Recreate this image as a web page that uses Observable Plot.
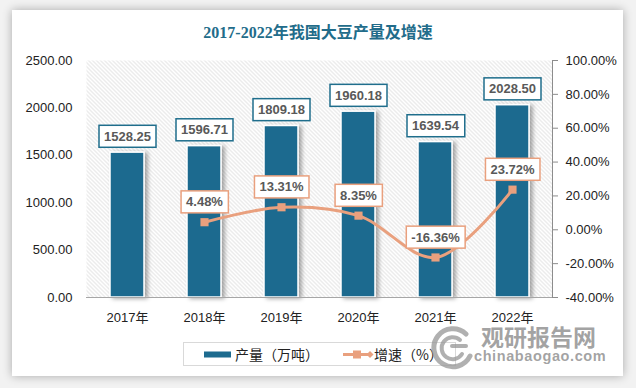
<!DOCTYPE html>
<html>
<head>
<meta charset="utf-8">
<script src="https://cdn.jsdelivr.net/npm/d3@7"></script>
<script src="https://cdn.jsdelivr.net/npm/@observablehq/plot@0.6"></script>
<style>
  html, body { margin: 0; padding: 0; }
  body { width: 636px; height: 388px; background: #f2f2f2; position: relative; overflow: hidden;
         font-family: "Liberation Sans", "Noto Sans CJK SC", sans-serif; }
  #card { position: absolute; left: 12px; top: 10px; width: 611px; height: 366px; background: #fff;
          box-shadow: 0 0 9px rgba(0,0,0,0.30); }
  #title { position: absolute; left: 0; top: 22px; width: 636px; text-align: center; height: 22px; line-height: 22px;
           font-family: "Liberation Serif", "Noto Sans CJK SC", serif; font-weight: bold; font-size: 16px; color: #226c8a; }
  #chart { position: absolute; left: 0; top: 40px; }
  #legend { position: absolute; left: 183px; top: 342px; width: 273px; height: 24px; border: 1px solid #d9d9d9;
            box-sizing: border-box; font-family: "Noto Sans CJK SC", sans-serif; font-size: 14px; color: #222; }
  .lg { position: absolute; top: 0; height: 22px; line-height: 22px; white-space: nowrap; }
  #wm1 { position: absolute; left: 481px; top: 320px; font-family: "Noto Sans CJK SC", sans-serif; font-weight: bold;
         font-size: 23px; color: rgba(128,128,128,0.72); line-height: 32px; letter-spacing: 0px; }
  #wm2 { position: absolute; left: 474px; top: 347px; font-family: "Liberation Sans", sans-serif; font-weight: bold;
         font-size: 14.5px; color: rgba(128,128,128,0.72); line-height: 18px; letter-spacing: 0.6px; }
  #logo { position: absolute; left: 426px; top: 326px; }
</style>
</head>
<body>
<div id="card"></div>
<div id="title">2017-2022年我国大豆产量及增速</div>
<div id="chart"></div>
<div id="legend">
  <div class="lg" style="left:20px;">
    <svg width="27" height="22" style="vertical-align:top"><rect x="0" y="8.5" width="27" height="6" fill="#1d6b8f"/></svg>
  </div>
  <div class="lg" style="left:51px;">产量（万吨）</div>
  <div class="lg" style="left:159px;">
    <svg width="32" height="22" style="vertical-align:top">
      <line x1="0" y1="11.5" x2="29" y2="11.5" stroke="#e9a07e" stroke-width="3"/>
      <rect x="10" y="7.5" width="8" height="8" fill="#e9a07e"/>
      <path d="M27,8 L30.5,11.5 L27,15 L23.5,11.5 Z" fill="#e9a07e"/>
    </svg>
  </div>
  <div class="lg" style="left:190px;">增速（%）</div>
</div>
<svg id="logo" width="50" height="44" viewBox="0 0 50 44">
  <g fill="none" stroke="rgba(150,150,150,0.75)" stroke-linecap="round">
    <path d="M40,8 A19,19 0 1 0 44,30" stroke-width="5"/>
    <path d="M34,14 A11,11 0 1 0 36,28" stroke-width="4"/>
    <path d="M26,20 L40,20" stroke-width="4"/>
  </g>
</svg>
<div id="wm1">观研报告网</div>
<div id="wm2">chinabaogao.com</div>

<script>
// ---- data ----
const years = ["2017年", "2018年", "2019年", "2020年", "2021年", "2022年"];
const output = [1528.25, 1596.71, 1809.18, 1960.18, 1639.54, 2028.50];   // 万吨
const growth = [null, 4.48, 13.31, 8.35, -16.36, 23.72];                  // %
const leftTicks = [0, 500, 1000, 1500, 2000, 2500];
const rightTicks = [-40, -20, 0, 20, 40, 60, 80, 100];

// right axis domain [-40, 100] mapped onto left domain [0, 2500]
const rMin = -40, rMax = 100, lMax = 2500;
const toLeft = p => (p - rMin) / (rMax - rMin) * lMax;
const fromLeft = v => v / lMax * (rMax - rMin) + rMin;

const barData = years.map((y, i) => ({year: y, value: output[i]}));
const lineData = years.map((y, i) => ({year: y, g: growth[i]})).filter(d => d.g != null);

const BLUE = "#1d6b8f", ORANGE = "#e9a07e", LABEL = "#595959";

const chart = Plot.plot({
  width: 636,
  height: 300,
  marginTop: 20,
  marginBottom: 43,
  marginLeft: 86,
  marginRight: 84,
  style: {fontFamily: "'Liberation Sans', 'Noto Sans CJK SC', sans-serif", fontSize: "13px", color: "#222", background: "transparent"},
  x: {domain: years, paddingInner: 0.56, paddingOuter: 0.28, label: null},
  y: {domain: [0, lMax], label: null},
  marks: [
    Plot.frame({fill: "url(#hatch)", stroke: "none"}),
    Plot.frame({anchor: "right", stroke: "#8c8c8c"}),
    Plot.axisX({tickSize: 0, tickPadding: 15, label: null, fontSize: 13}),
    Plot.axisY({ticks: leftTicks, tickFormat: d => d.toFixed(2), tickSize: 0, tickPadding: 14, label: null, fontSize: 13}),
    Plot.axisY({anchor: "right", ticks: rightTicks.map(toLeft), tickFormat: d => fromLeft(d).toFixed(2) + "%",
                tickSize: 5, tickPadding: 8, label: null, fontSize: 13, stroke: "#8c8c8c"}),
    Plot.barY(barData, {x: "year", y: "value", fill: BLUE, stroke: "#fff", strokeWidth: 1.5}),
    Plot.ruleY([0], {stroke: "#a6a6a6", strokeWidth: 1}),
    Plot.line(lineData, {x: "year", y: d => toLeft(d.g), stroke: ORANGE, strokeWidth: 3, curve: "catmull-rom"}),
    Plot.dot(lineData, {x: "year", y: d => toLeft(d.g), symbol: "square", r: 4.6, fill: ORANGE, stroke: "none"}),
    Plot.text(barData, {x: "year", y: "value", text: d => d.value.toFixed(2), dy: -16, fill: LABEL,
                        fontWeight: "bold", fontSize: 13, lineAnchor: "middle"}),
    Plot.text(lineData, {x: "year", y: d => toLeft(d.g), text: d => d.g.toFixed(2) + "%", dy: -20, fill: LABEL,
                         fontWeight: "bold", fontSize: 13, lineAnchor: "middle"})
  ]
});

// defs: hatch pattern + shadow filter
const ns = "http://www.w3.org/2000/svg";
const defs = document.createElementNS(ns, "defs");
defs.innerHTML = `
  <pattern id="hatch" patternUnits="userSpaceOnUse" width="4" height="4">
    <rect width="4" height="4" fill="#ffffff"/>
    <path d="M-1,-1 L5,5 M-1,3 L1,5 M3,-1 L5,1" stroke="#d4d4d4" stroke-width="0.9"/>
  </pattern>
  <filter id="shadow" x="-30%" y="-10%" width="180%" height="130%">
    <feDropShadow dx="3" dy="1" stdDeviation="2.2" flood-color="#000" flood-opacity="0.35"/>
  </filter>`;
chart.insertBefore(defs, chart.firstChild);
document.getElementById("chart").appendChild(chart);

const bars = chart.querySelector('g[aria-label="bar"]');
if (bars) bars.setAttribute("filter", "url(#shadow)");

function boxLabels(g, color) {
  if (!g) return;
  g.querySelectorAll("text").forEach(t => {
    const b = t.getBBox();
    const r = document.createElementNS(ns, "rect");
    const px = 5, h = 22;
    r.setAttribute("x", b.x - px);
    r.setAttribute("y", b.y + b.height / 2 - h / 2);
    r.setAttribute("width", b.width + 2 * px);
    r.setAttribute("height", h);
    r.setAttribute("fill", "#fff");
    r.setAttribute("stroke", color);
    r.setAttribute("stroke-width", "1.5");
    if (t.getAttribute("transform")) r.setAttribute("transform", t.getAttribute("transform"));
    t.parentNode.insertBefore(r, t);
  });
}
const textGroups = chart.querySelectorAll('g[aria-label="text"]');
boxLabels(textGroups[0], "#1f6e8c");
boxLabels(textGroups[1], ORANGE);
</script>
</body>
</html>
